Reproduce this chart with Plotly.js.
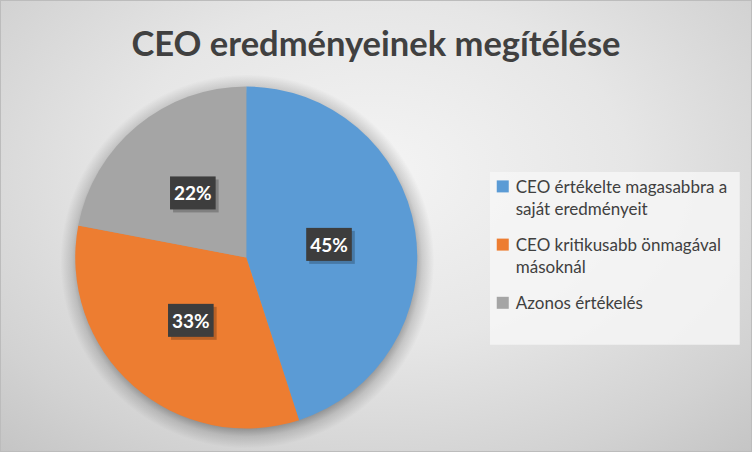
<!DOCTYPE html>
<html>
<head>
<meta charset="utf-8">
<script src="https://cdn.plot.ly/plotly-3.0.1.min.js"></script>
<style>
html,body{margin:0;padding:0;}
#chart{width:752px;height:452px;box-sizing:border-box;border:1px solid #bcbcbc;
background:radial-gradient(ellipse 75% 85% at 50% 38%, #f4f4f4 0%, #e6e6e6 45%, #d2d2d2 80%, #c4c4c4 100%);}
</style>
</head>
<body>
<div id="chart"></div>
<script>
const categories = ["CEO értékelte magasabbra a saját eredményeit", "CEO kritikusabb önmagával másoknál", "Azonos értékelés"];
const values = [45, 33, 22];
const colors = ["#5b9bd5", "#ed7d31", "#a5a5a5"];
const chartTitle = "CEO eredményeinek megítélése";

function wrap(s, max) {
  const words = s.split(" "); const lines = []; let cur = "";
  words.forEach(w => {
    if (cur && (cur + " " + w).length > max) { lines.push(cur); cur = w; }
    else cur = cur ? cur + " " + w : w;
  });
  lines.push(cur);
  return lines.join("<br>");
}

const FONT = "Lato, 'Open Sans', sans-serif";

const trace = {
  type: "pie",
  labels: categories.map(c => wrap(c, 26)),
  values: values,
  sort: false,
  direction: "clockwise",
  rotation: 0,
  marker: {colors: colors, line: {width: 0}},
  textinfo: "percent",
  texttemplate: "%{percent:.0%}",
  textposition: "inside",
  insidetextorientation: "horizontal",
  insidetextfont: {family: FONT, size: 19, color: "#ffffff", weight: "bold"},
  hoverinfo: "label+percent",
  domain: {x: [0.097, 0.557], y: [0.05, 0.81]}
};

const layout = {
  width: 750, height: 450,
  margin: {l: 0, r: 0, t: 0, b: 0},
  paper_bgcolor: "rgba(0,0,0,0)",
  plot_bgcolor: "rgba(0,0,0,0)",
  title: {text: "<b>" + chartTitle + "</b>", x: 0.5, xanchor: "center", y: 0.905, yanchor: "middle",
          font: {family: FONT, size: 34.5, color: "#404040"}},
  showlegend: true,
  shapes: [{type: "rect", xref: "paper", yref: "paper", x0: 0.652, x1: 0.985, y0: 0.236, y1: 0.62,
            fillcolor: "rgba(246,246,246,0.85)", line: {width: 0}, layer: "below"}],
  legend: {x: 0.633, y: 0.627, xanchor: "left", yanchor: "top", valign: "top",
           bgcolor: "rgba(0,0,0,0)", borderwidth: 0,
           font: {family: FONT, size: 17, color: "#404040"},
           itemwidth: 30}
};

Plotly.newPlot("chart", [trace], layout, {displayModeBar: false, staticPlot: true}).then(gd => {
  const ns = "http://www.w3.org/2000/svg";
  const svg = gd.querySelector("svg.main-svg");
  const svgRect = svg.getBoundingClientRect();

  // pie geometry from drawn slices
  let x0 = Infinity, y0 = Infinity, x1 = -Infinity, y1 = -Infinity;
  gd.querySelectorAll(".pielayer path.surface").forEach(p => {
    const b = p.getBoundingClientRect();
    x0 = Math.min(x0, b.left); y0 = Math.min(y0, b.top);
    x1 = Math.max(x1, b.right); y1 = Math.max(y1, b.bottom);
  });
  const cx = (x0 + x1) / 2 - svgRect.left, cy = (y0 + y1) / 2 - svgRect.top;
  const R = Math.max(x1 - x0, y1 - y0) / 2;

  // soft shadow behind the pie (radial gradient halo)
  const defs = document.createElementNS(ns, "defs");
  const SR = R + 16;
  const grad = document.createElementNS(ns, "radialGradient");
  grad.setAttribute("id", "pieshadowgrad");
  grad.setAttribute("gradientUnits", "userSpaceOnUse");
  grad.setAttribute("cx", cx + 1); grad.setAttribute("cy", cy + 4); grad.setAttribute("r", SR);
  [[(R - 4) / SR, 0.32], [(R + 4) / SR, 0.14], [1, 0]].forEach(([o, a]) => {
    const s = document.createElementNS(ns, "stop");
    s.setAttribute("offset", o); s.setAttribute("stop-color", "#000"); s.setAttribute("stop-opacity", a);
    grad.appendChild(s);
  });
  defs.appendChild(grad); svg.insertBefore(defs, svg.firstChild);
  const pl = gd.querySelector(".pielayer");
  const circ = document.createElementNS(ns, "circle");
  circ.setAttribute("cx", cx + 1); circ.setAttribute("cy", cy + 4); circ.setAttribute("r", SR);
  circ.setAttribute("fill", "url(#pieshadowgrad)");
  pl.insertBefore(circ, pl.firstChild);

  // move labels to half radius along bisector, add dark boxes
  const total = values.reduce((a, b) => a + b, 0);
  let cum = 0;
  const targets = values.map(v => {
    const a = (cum + v / 2) / total * 2 * Math.PI; cum += v;
    return [cx + 0.49 * R * Math.sin(a), cy - 0.49 * R * Math.cos(a)];
  });
  gd.querySelectorAll(".pielayer g.slice").forEach((sl, i) => {
    const g = sl.querySelector("g.slicetext");
    if (!g) return;
    const t = g.querySelector("text");
    const b = t.getBoundingClientRect();
    const curX = (b.left + b.right) / 2 - svgRect.left, curY = (b.top + b.bottom) / 2 - svgRect.top;
    const dx = targets[i][0] - curX, dy = targets[i][1] - curY;
    g.setAttribute("transform", "translate(" + dx + "," + dy + ")");
    const bb = t.getBBox();
    const padX = 4, padY = 5;
    const mk = (off, fill) => {
      const r = document.createElementNS(ns, "rect");
      r.setAttribute("x", bb.x - padX + off); r.setAttribute("y", bb.y - padY + off);
      r.setAttribute("width", bb.width + 2 * padX); r.setAttribute("height", bb.height + 2 * padY);
      r.setAttribute("fill", fill);
      const tr = t.getAttribute("transform");
      if (tr) r.setAttribute("transform", tr);
      return r;
    };
    g.insertBefore(mk(3, "rgba(0,0,0,0.22)"), t);
    g.insertBefore(mk(0, "#3d3d3d"), t);
  });

  // extra spacing between legend entries, symbol closer to text
  const sb = gd.querySelector(".legend .scrollbox");
  if (sb) sb.removeAttribute("clip-path");
  const lg = gd.querySelector(".legend");
  if (lg) lg.removeAttribute("clip-path");
  const gap = 11;
  gd.querySelectorAll(".legend .traces").forEach((tr, i) => {
    const m = /translate\(\s*([-\d.]+)[ ,]+([-\d.]+)\s*\)/.exec(tr.getAttribute("transform") || "");
    if (m) tr.setAttribute("transform", "translate(" + m[1] + "," + (parseFloat(m[2]) + i * gap) + ")");
    const lp = tr.querySelector(".legendpoints");
    if (lp) lp.setAttribute("transform", "translate(7,0)");
  });
});
</script>
</body>
</html>
